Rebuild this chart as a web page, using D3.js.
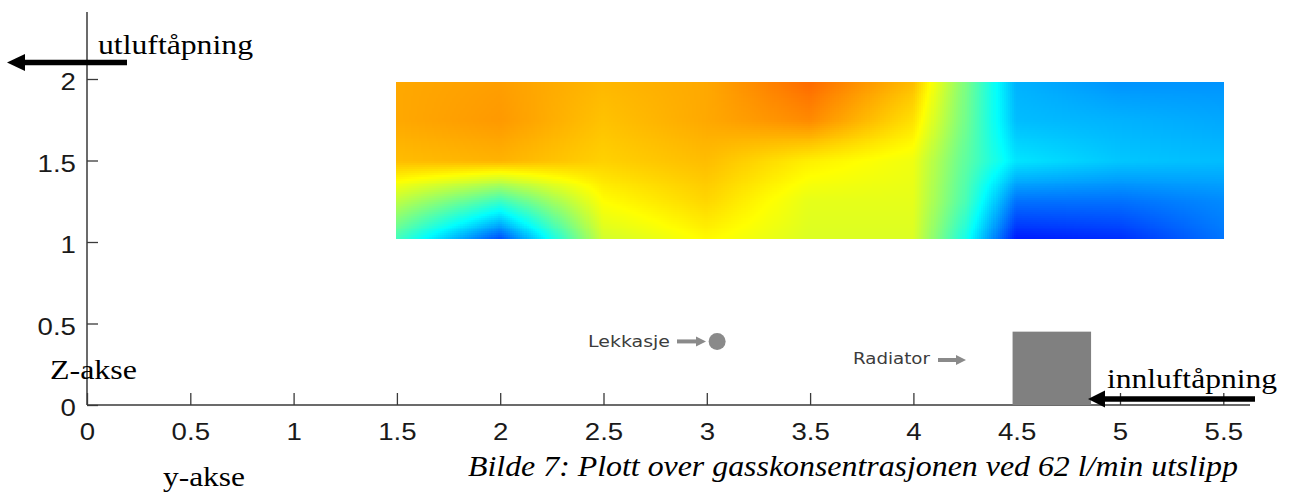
<!DOCTYPE html>
<html>
<head>
<meta charset="utf-8">
<script src="https://cdn.jsdelivr.net/npm/d3@7"></script>
<style>
  body { margin: 0; background: #fff; }
  svg { display: block; }
</style>
</head>
<body>
<script>
// measuring points of the grid (y = horisontal, z = height), values on a 0..1 jet scale
var yCols = [1.5, 2, 2.5, 3, 3.5, 4, 4.25, 4.5, 5, 5.5];
var zRows = [1.02, 1.25, 1.5, 1.75, 1.98];

var conc_z100 = [0.44, 0.20, 0.58, 0.63, 0.59, 0.59, 0.40, 0.15, 0.17, 0.24];
var conc_z125 = [0.56, 0.43, 0.625, 0.665, 0.60, 0.60, 0.45, 0.235, 0.235, 0.26];
var conc_z150 = [0.69, 0.70, 0.67, 0.69, 0.64, 0.61, 0.47, 0.35, 0.32, 0.31];
var conc_z175 = [0.71, 0.725, 0.685, 0.71, 0.74, 0.655, 0.49, 0.31, 0.30, 0.29];
var conc_z200 = [0.71, 0.72, 0.695, 0.71, 0.77, 0.69, 0.50, 0.30, 0.27, 0.27];
var concRows = [conc_z100, conc_z125, conc_z150, conc_z175, conc_z200];

// axis ticks
var xTicks = [0, 0.5, 1, 1.5, 2, 2.5, 3, 3.5, 4, 4.5, 5, 5.5];
var zTicks = [0, 0.5, 1, 1.5, 2];

// objects in the room
var leak = { y: 3.05, z: 0.39 };
var radiator = { y0: 4.48, y1: 4.86, z0: 0, z1: 0.45 };

var W = 1291, H = 495;

var svg = d3.select("body").append("svg")
    .attr("width", W)
    .attr("height", H);

var x = d3.scaleLinear().domain([0, 5.5]).range([87, 1223.3]);
var z = d3.scaleLinear().domain([0, 2]).range([405, 79]);

// jet colormap
var jet = d3.scaleLinear()
    .domain([0, 0.125, 0.375, 0.625, 0.875, 1])
    .range(["#00008f", "#0000ff", "#00ffff", "#ffff00", "#ff0000", "#800000"])
    .clamp(true);

// bilinear lookup in the measuring grid
function lookup(yv, zv)
{
    let i = Math.max(0, Math.min(yCols.length - 2, d3.bisectRight(yCols, yv) - 1));
    let j = Math.max(0, Math.min(zRows.length - 2, d3.bisectRight(zRows, zv) - 1));
    let t = (yv - yCols[i]) / (yCols[i+1] - yCols[i]);
    let u = (zv - zRows[j]) / (zRows[j+1] - zRows[j]);
    let a = concRows[j][i],   b = concRows[j][i+1];
    let c = concRows[j+1][i], d = concRows[j+1][i+1];
    return (1-u)*((1-t)*a + t*b) + u*((1-t)*c + t*d);
}

// fine cells for the shaded field
var ny = 400, nz = 80;
var ys = d3.range(ny + 1).map(k => yCols[0] + k * (yCols[yCols.length-1] - yCols[0]) / ny);
var zs = d3.range(nz + 1).map(k => zRows[0] + k * (zRows[zRows.length-1] - zRows[0]) / nz);
var cells = [];
for (let a = 0; a < ny; a++) {
    for (let b = 0; b < nz; b++) {
        cells.push({ y0: ys[a], y1: ys[a+1], z0: zs[b], z1: zs[b+1],
                     v: lookup((ys[a] + ys[a+1]) / 2, (zs[b] + zs[b+1]) / 2) });
    }
}

svg.append("g").attr("class", "field")
  .selectAll("rect").data(cells).enter().append("rect")
    .attr("x", d => Math.floor(x(d.y0)))
    .attr("y", d => Math.floor(z(d.z1)))
    .attr("width", d => Math.ceil(x(d.y1)) - Math.floor(x(d.y0)))
    .attr("height", d => Math.ceil(z(d.z0)) - Math.floor(z(d.z1)))
    .attr("fill", d => jet(d.v))
    .attr("shape-rendering", "crispEdges");

// axes
var xAxis = svg.append("g")
    .attr("transform", "translate(0," + z(0) + ")")
    .call(d3.axisBottom(x).tickValues(xTicks).tickSizeInner(-12).tickSizeOuter(0).tickPadding(18)
          .tickFormat(d3.format("")));
var zAxis = svg.append("g")
    .attr("transform", "translate(" + x(0) + ",0)")
    .call(d3.axisLeft(z).tickValues(zTicks).tickSizeInner(-11).tickSizeOuter(0).tickPadding(9.6)
          .tickFormat(d3.format("")));

[xAxis, zAxis].forEach(function(g) {
    g.select(".domain").remove();
    g.selectAll(".tick line").attr("stroke", "#3a3a3a").attr("stroke-width", 1.3);
    g.selectAll(".tick text")
        .attr("fill", "#1a1a1a")
        .style("font-family", "'Liberation Sans', Arial, sans-serif")
        .style("font-size", "24px")
        .attr("transform", "scale(1.15,1)");
});
zAxis.selectAll(".tick text").attr("dy", "0.45em");

// axis lines
svg.append("line")
    .attr("x1", x(0)).attr("x2", 1250)
    .attr("y1", z(0)).attr("y2", z(0))
    .attr("stroke", "#3a3a3a").attr("stroke-width", 1.5);
svg.append("line")
    .attr("x1", x(0)).attr("x2", x(0))
    .attr("y1", 12).attr("y2", z(0))
    .attr("stroke", "#3a3a3a").attr("stroke-width", 1.5);

// radiator
svg.append("rect")
    .attr("x", x(radiator.y0))
    .attr("y", z(radiator.z1))
    .attr("width", x(radiator.y1) - x(radiator.y0))
    .attr("height", z(radiator.z0) - z(radiator.z1))
    .attr("fill", "#808080");

// leak
svg.append("circle")
    .attr("cx", x(leak.y)).attr("cy", z(leak.z))
    .attr("r", 8.5)
    .attr("fill", "#8a8a8a");

// arrow: shaft + triangular head, head points to (x2,y)
function arrow(x1, x2, y, w, hl, hw, col)
{
    let dir = Math.sign(x2 - x1);
    let xb = x2 - dir * hl;
    svg.append("line")
        .attr("x1", x1).attr("x2", xb)
        .attr("y1", y).attr("y2", y)
        .attr("stroke", col).attr("stroke-width", w);
    svg.append("path")
        .attr("d", "M" + x2 + "," + y + "L" + xb + "," + (y - hw) + "L" + xb + "," + (y + hw) + "Z")
        .attr("fill", col);
}

arrow(677, 706, z(leak.z), 4, 10, 5, "#8a8a8a");
arrow(938, 966, 360, 4, 10, 5, "#8a8a8a");
arrow(127, 7, 62.5, 5.5, 18, 8.5, "#000");
arrow(1255, 1088, 399, 5.5, 17, 8.5, "#000");

// labels
function label(txt, lx, ly, len, size, family, col, italic)
{
    svg.append("text")
        .attr("x", lx).attr("y", ly)
        .attr("textLength", len)
        .attr("lengthAdjust", "spacingAndGlyphs")
        .style("font-family", family)
        .style("font-size", size + "px")
        .style("font-style", italic ? "italic" : "normal")
        .attr("fill", col)
        .text(txt);
}

var serif = "'Liberation Serif', 'Times New Roman', serif";
var sans  = "'DejaVu Sans', Verdana, sans-serif";

label("Lekkasje", 588, 347, 82, 16.5, sans, "#3c3c3c");
label("Radiator", 853, 364, 77, 16.5, sans, "#3c3c3c");
label("utluftåpning", 98, 54, 155, 28, serif, "#000");
label("innluftåpning", 1107, 388, 170, 28, serif, "#000");
label("Z-akse", 50, 379, 87, 28, serif, "#000");
label("y-akse", 163, 486, 82, 28, serif, "#000");
label("Bilde 7: Plott over gasskonsentrasjonen ved 62 l/min utslipp", 468, 476, 770, 28.5, serif, "#000", true);
</script>
</body>
</html>
